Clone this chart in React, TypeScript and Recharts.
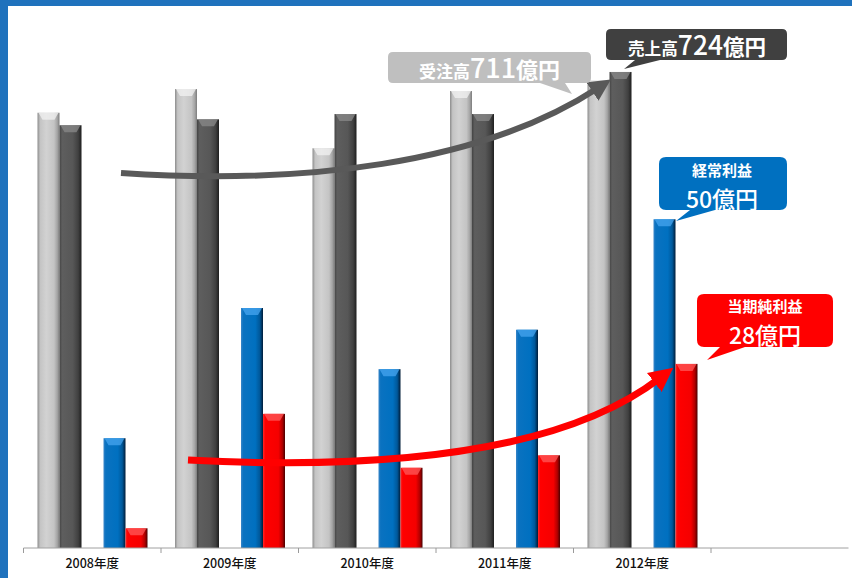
import React from "react";
import { BarChart, Bar, XAxis, YAxis } from "recharts";

// 年度別 受注高・売上高 (億円, 左軸) / 経常利益・当期純利益 (億円, 右軸)
const years = ["2008年度", "2009年度", "2010年度", "2011年度", "2012年度", ""];
const orders = [662, 698, 608, 695, 711];
const sales = [643, 652, 660, 660, 724];
const ordinaryProfit = [16.7, 36.5, 27.2, 33.2, 50];
const netProfit = [3.0, 20.4, 12.2, 14.1, 28];

const data = years.map((year, i) => ({
  year,
  orders: orders[i],
  sales: sales[i],
  ordinaryProfit: ordinaryProfit[i],
  netProfit: netProfit[i],
}));

const W = 852;
const H = 578;
const MARGIN = { top: 22, right: 3.5, left: 23.5, bottom: 0 };
const AXIS_Y = H - 30;
const BAND = (W - MARGIN.left - MARGIN.right) / years.length;
const FONT = '"Noto Sans CJK JP", "Noto Sans", sans-serif';

interface ShapeProps {
  x?: number;
  y?: number;
  width?: number;
  height?: number;
}

const cylinder = (gradId: string, cap: string) => (props: ShapeProps) => {
  const { x = 0, y = 0, width = 0, height = 0 } = props;
  if (!Number.isFinite(height) || height <= 0) return <g />;
  const capH = Math.min(7, height);
  return (
    <g>
      <rect x={x} y={y} width={width} height={height} fill={`url(#${gradId})`} />
      <polygon
        points={`${x + 1},${y} ${x + width - 1},${y} ${x + width - 5},${y + capH} ${x + 5},${y + capH}`}
        fill={cap}
        opacity={0.75}
      />
    </g>
  );
};

interface TickProps {
  x?: number;
  y?: number;
  payload?: { value: string };
}

const YearTick = ({ x = 0, payload }: TickProps) => (
  <g>
    <line x1={x - BAND / 2} x2={x - BAND / 2} y1={AXIS_Y} y2={AXIS_Y + 5} stroke="#9a9a9a" />
    <text x={x} y={AXIS_Y + 20} textAnchor="middle" fontSize={12.5} fontWeight={500} fill="#111" fontFamily={FONT}>
      {payload?.value}
    </text>
  </g>
);

// rounded box with a pointer on its bottom edge
const calloutPath = (
  x: number, y: number, w: number, h: number, r: number,
  t1: number, t2: number, tipX: number, tipY: number
) =>
  `M${x + r},${y} H${x + w - r} Q${x + w},${y} ${x + w},${y + r} V${y + h - r} Q${x + w},${y + h} ${x + w - r},${y + h}` +
  ` H${t2} L${tipX},${tipY} L${t1},${y + h} H${x + r} Q${x},${y + h} ${x},${y + h - r} V${y + r} Q${x},${y} ${x + r},${y} Z`;

const Annotations = () => (
  <svg width={W} height={H} style={{ position: "absolute", left: 0, top: 0, pointerEvents: "none" }}>
    <defs>
      <marker id="headGrey" viewBox="0 0 10 10" refX="3" refY="5" markerWidth="22" markerHeight="22" markerUnits="userSpaceOnUse" orient="auto">
        <path d="M0,0 L10,5 L0,10 z" fill="#595959" />
      </marker>
      <marker id="headRed" viewBox="0 0 10 10" refX="3" refY="5" markerWidth="24" markerHeight="24" markerUnits="userSpaceOnUse" orient="auto">
        <path d="M0,0 L10,5 L0,10 z" fill="#ff0000" />
      </marker>
    </defs>

    {/* 売上高 trend arrow */}
    <path d="M121,173 C300,185 480,165 598,88" fill="none" stroke="#595959" strokeWidth={6} markerEnd="url(#headGrey)" />
    {/* 当期純利益 trend arrow */}
    <path d="M188,460 C380,470 560,455 660,378" fill="none" stroke="#ff0000" strokeWidth={7} markerEnd="url(#headRed)" />

    {/* 受注高 */}
    <path d={calloutPath(388, 52, 203, 31, 5, 540, 565, 572, 94)} fill="#bfbfbf" />
    <text x={419} y={78} fill="#fff" fontFamily={FONT} fontWeight={500} textLength={141} lengthAdjust="spacingAndGlyphs">
      <tspan fontSize={17} fontWeight={700}>受注高</tspan>
      <tspan fontSize={27}>711</tspan>
      <tspan fontSize={22} fontWeight={700}>億円</tspan>
    </text>

    {/* 売上高 */}
    <path d={calloutPath(606, 29, 181, 31, 5, 635, 660, 624, 69)} fill="#404040" />
    <text x={628} y={55} fill="#fff" fontFamily={FONT} fontWeight={500} textLength={138} lengthAdjust="spacingAndGlyphs">
      <tspan fontSize={17} fontWeight={700}>売上高</tspan>
      <tspan fontSize={27}>724</tspan>
      <tspan fontSize={22} fontWeight={700}>億円</tspan>
    </text>

    {/* 経常利益 */}
    <path d={calloutPath(659, 157, 128, 53, 7, 690, 715, 676, 221)} fill="#0070c0" />
    <text textAnchor="middle" fill="#fff" fontFamily={FONT}>
      <tspan x={722} y={176} fontWeight={700} fontSize={15}>経常利益</tspan>
      <tspan x={722} y={208} fontWeight={500} fontSize={23}>50億円</tspan>
    </text>

    {/* 当期純利益 */}
    <path d={calloutPath(697, 294, 136, 53, 7, 720, 745, 707, 360)} fill="#ff0000" />
    <text textAnchor="middle" fill="#fff" fontFamily={FONT}>
      <tspan x={765} y={312} fontWeight={700} fontSize={15}>当期純利益</tspan>
      <tspan x={765} y={344} fontWeight={500} fontSize={23}>28億円</tspan>
    </text>
  </svg>
);

const Gradients = () => (
  <svg width={0} height={0} style={{ position: "absolute" }}>
    <defs>
      <linearGradient id="gLight" x1="0" y1="0" x2="1" y2="0">
        <stop offset="0%" stopColor="#8c8c8c" />
        <stop offset="12%" stopColor="#c4c4c4" />
        <stop offset="40%" stopColor="#d2d2d2" />
        <stop offset="75%" stopColor="#c4c4c4" />
        <stop offset="90%" stopColor="#a4a4a4" />
        <stop offset="100%" stopColor="#7c7c7c" />
      </linearGradient>
      <linearGradient id="gDark" x1="0" y1="0" x2="1" y2="0">
        <stop offset="0%" stopColor="#444" />
        <stop offset="12%" stopColor="#5e5e5e" />
        <stop offset="60%" stopColor="#575757" />
        <stop offset="85%" stopColor="#404040" />
        <stop offset="100%" stopColor="#1e1e1e" />
      </linearGradient>
      <linearGradient id="gBlue" x1="0" y1="0" x2="1" y2="0">
        <stop offset="0%" stopColor="#3a86c8" />
        <stop offset="10%" stopColor="#0a72c0" />
        <stop offset="65%" stopColor="#0070c0" />
        <stop offset="85%" stopColor="#00589a" />
        <stop offset="100%" stopColor="#001c38" />
      </linearGradient>
      <linearGradient id="gRed" x1="0" y1="0" x2="1" y2="0">
        <stop offset="0%" stopColor="#ff2a2a" />
        <stop offset="10%" stopColor="#ff0000" />
        <stop offset="70%" stopColor="#f50000" />
        <stop offset="88%" stopColor="#b00000" />
        <stop offset="100%" stopColor="#4a0000" />
      </linearGradient>
    </defs>
  </svg>
);

export default function App() {
  return (
    <div style={{ position: "absolute", left: 0, top: 0, width: W, height: H, background: "#fff", overflow: "hidden" }}>
      <Gradients />
      <BarChart width={W} height={H} data={data} margin={MARGIN} barSize={22} barGap={0}>
        <XAxis
          dataKey="year"
          height={30}
          interval={0}
          stroke="#a0a0a0"
          tickLine={false}
          tick={<YearTick />}
        />
        <YAxis yAxisId="left" domain={[0, 800]} hide />
        <YAxis yAxisId="right" orientation="right" domain={[0, 80]} hide />
        <Bar yAxisId="left" dataKey="orders" name="受注高" fill="#c8c8c8" shape={cylinder("gLight", "#f2f2f2")} isAnimationActive={false} />
        <Bar yAxisId="left" dataKey="sales" name="売上高" fill="#575757" shape={cylinder("gDark", "#8a8a8a")} isAnimationActive={false} />
        {/* empty slot that separates the two pairs */}
        <Bar yAxisId="left" dataKey="gap" fill="none" isAnimationActive={false} />
        <Bar yAxisId="right" dataKey="ordinaryProfit" name="経常利益" fill="#0070c0" shape={cylinder("gBlue", "#47a6f0")} isAnimationActive={false} />
        <Bar yAxisId="right" dataKey="netProfit" name="当期純利益" fill="#ff0000" shape={cylinder("gRed", "#ff5a5a")} isAnimationActive={false} />
      </BarChart>
      <Annotations />
      <div style={{ position: "absolute", left: 0, top: 0, width: W, height: 6, background: "#1f72bd" }} />
      <div style={{ position: "absolute", left: 0, top: 0, width: 8, height: H, background: "#1f72bd" }} />
    </div>
  );
}
